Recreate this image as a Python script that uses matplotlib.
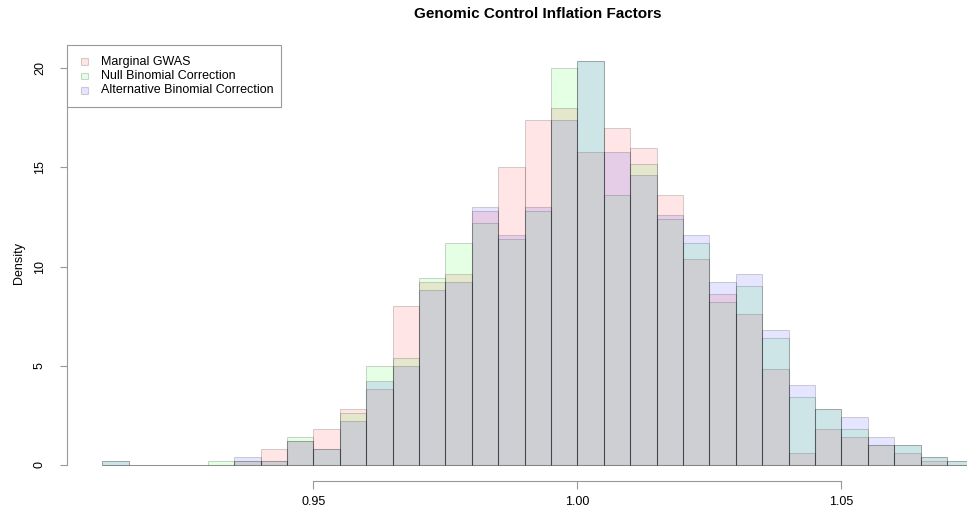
import matplotlib
matplotlib.use("Agg")
import matplotlib.pyplot as plt
from matplotlib.patches import Rectangle
import numpy as np

plt.rcParams['font.family'] = ['Liberation Sans', 'DejaVu Sans']

# ---- data (density per bin, bin width 0.005 starting at 0.910) ----
bin_start = 0.910
bin_width = 0.005
marginal_gwas = [0, 0, 0, 0, 0, 0.2, 0.8, 1.2, 1.8, 2.8, 3.8, 8.0, 9.2, 9.6, 12.8, 15.0,
                 17.4, 18.0, 15.8, 17.0, 16.0, 13.6, 10.4, 8.6, 7.6, 4.8, 0.6, 1.8, 1.4,
                 1.0, 0.6, 0.2, 0]
null_binomial = [0.2, 0, 0, 0, 0.2, 0.2, 0.2, 1.4, 0.8, 2.6, 5.0, 5.4, 9.4, 11.2, 12.2, 11.4,
                 12.8, 20.0, 20.4, 13.6, 15.2, 12.4, 11.2, 8.2, 9.0, 6.4, 3.4, 2.8, 1.8,
                 1.0, 1.0, 0.4, 0.2]
alt_binomial = [0.2, 0, 0, 0, 0, 0.4, 0.2, 1.2, 0.8, 2.2, 4.2, 5.0, 8.8, 9.2, 13.0, 11.6,
                13.0, 17.4, 20.4, 15.8, 14.6, 12.6, 11.6, 9.2, 9.6, 6.8, 4.0, 2.8, 2.4,
                1.4, 1.0, 0.4, 0.2]
series_names = ["Marginal GWAS", "Null Binomial Correction", "Alternative Binomial Correction"]
x_ticks = [0.95, 1.00, 1.05]
x_tick_labels = ["0.95", "1.00", "1.05"]
y_ticks = [0, 5, 10, 15, 20]
title = "Genomic Control Inflation Factors"
ylabel = "Density"

W, H = 967, 514
def fx(px):
    return px / W
def fy(py):
    return 1 - py / H

fig = plt.figure(figsize=(W / 100, H / 100), dpi=100)
ax_l, ax_r, ax_t, ax_b = 67.3, 967.0, 44.4, 480.7
ax = fig.add_axes([fx(ax_l), fy(ax_b), fx(ax_r) - fx(ax_l), fy(ax_t) - fy(ax_b)])

colors = [(1, 0, 0, 0.1), (0, 1, 0, 0.1), (0, 0, 1, 0.1)]
edge = (0, 0, 0, 0.17)
edges = bin_start + bin_width * np.arange(len(marginal_gwas))
for vals, c in zip([marginal_gwas, null_binomial, alt_binomial], colors):
    ax.bar(edges, vals, width=bin_width, align='edge', color=c, edgecolor=edge,
           linewidth=0.75)

# axes limits like R (extended 4%)
px_per_unit = 5280.0
x_left = 0.95 - (313.3 - ax_l) / px_per_unit
x_right = 0.95 + (ax_r - 313.3) / px_per_unit
ax.set_xlim(x_left, x_right)
ax.set_ylim(-0.816, 21.216)

axis_col = '#999999'
for s in ['top', 'right']:
    ax.spines[s].set_visible(False)
ax.spines['left'].set_bounds(0, 20)
ax.spines['bottom'].set_bounds(0.95, 1.05)
for s in ['left', 'bottom']:
    ax.spines[s].set_color(axis_col)
    ax.spines[s].set_linewidth(0.8)

ax.set_xticks(x_ticks)
ax.set_xticklabels(x_tick_labels)
ax.set_yticks(y_ticks)
ax.tick_params(axis='both', direction='out', length=5.4, width=0.8, color=axis_col,
               labelsize=9, labelcolor='black')
ax.tick_params(axis='x', pad=5.5)
ax.tick_params(axis='y', pad=10, labelrotation=90)
plt.setp(ax.get_yticklabels(), va='center')

fig.text(fx(537.7), fy(17.8), title, ha='center', va='baseline',
         fontsize=11, fontweight='bold')
fig.text(fx(19), fy(262.5), ylabel, ha='center', va='center', rotation=90, fontsize=9)

# legend box (R style, top-left of plot region)
lb_l, lb_t, lb_r, lb_b = 67.3, 44.7, 281.3, 106.7
fig.add_artist(Rectangle((fx(lb_l), fy(lb_b)), fx(lb_r) - fx(lb_l), (lb_b - lb_t) / H,
                         transform=fig.transFigure, facecolor='white',
                         edgecolor=axis_col, linewidth=0.8, zorder=5))
rows = [61.7, 76.0, 90.3]
for name, c, ry in zip(series_names, colors, rows):
    sq = 6.8
    fig.add_artist(Rectangle((fx(80.7), fy(ry + sq / 2)), sq / W, sq / H,
                             transform=fig.transFigure, facecolor=c,
                             edgecolor=edge, linewidth=0.8, zorder=6))
    fig.text(fx(100.7), fy(ry), name, ha='left', va='center', fontsize=9, zorder=7)

fig.savefig("out.png", dpi=100)
